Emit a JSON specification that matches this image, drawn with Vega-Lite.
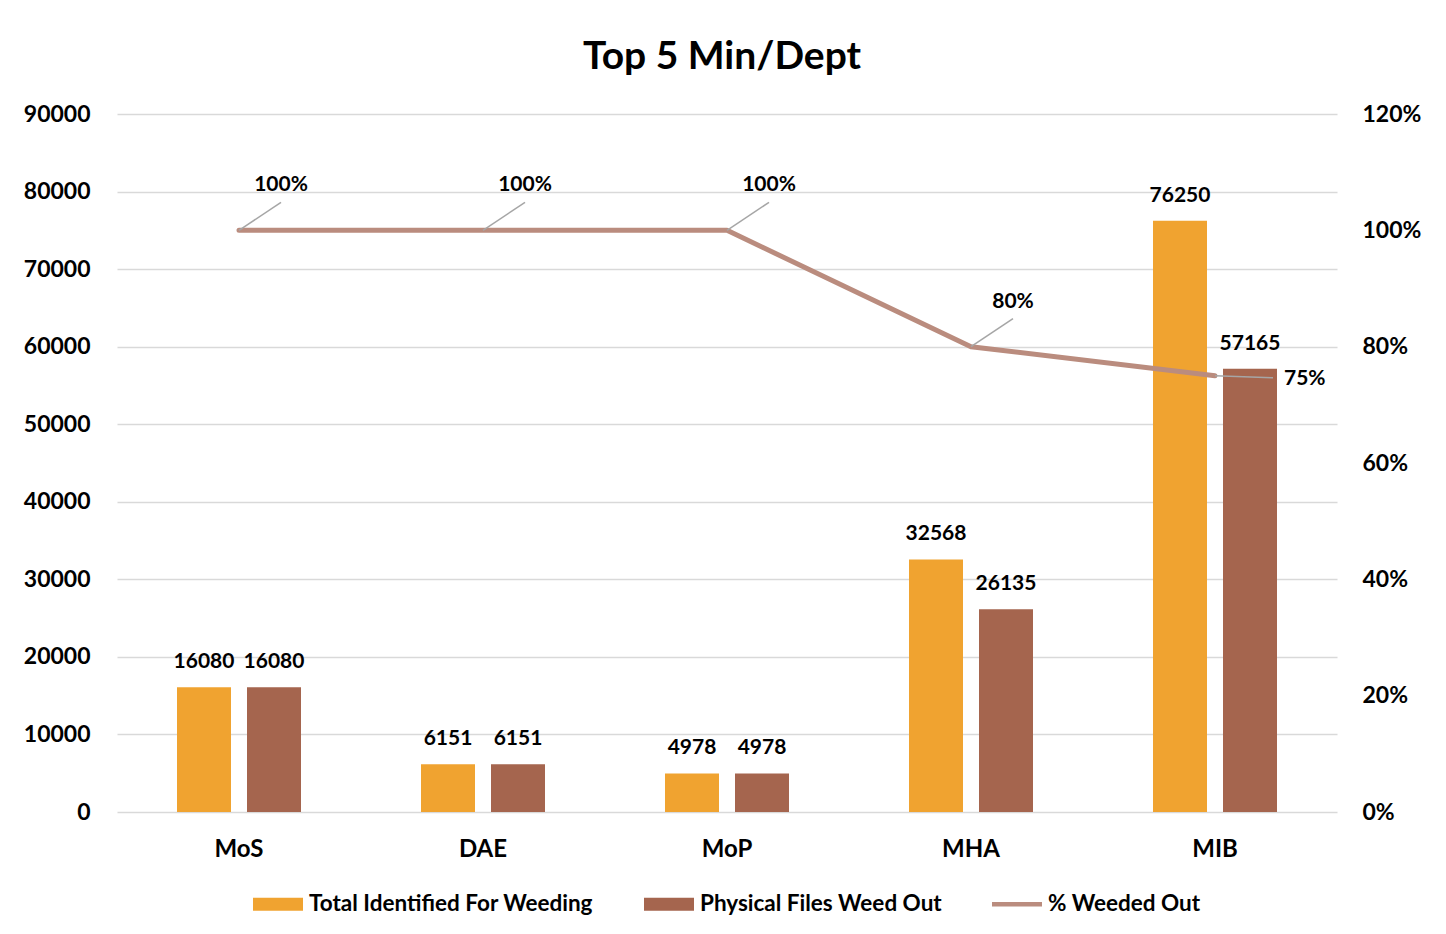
{
  "$schema": "https://vega.github.io/schema/vega-lite/v6.json",
  "width": 1220,
  "height": 698,
  "autosize": {"type": "none"},
  "padding": {"left": 117, "top": 114, "right": 109, "bottom": 122},
  "background": "white",
  "config": {
    "view": {"stroke": null},
    "font": "Lato",
    "axis": {"labelFont": "Lato", "labelFontWeight": "bold", "labelColor": "black", "labelFontSize": 23, "domain": false, "ticks": false, "title": null},
    "legend": {"layout": {"bottom": {"anchor": "middle"}}}
  },
  "title": {"text": "Top 5 Min/Dept", "fontSize": 39, "font": "Lato", "fontWeight": "bold", "color": "black", "anchor": "middle", "offset": 26, "dx": -5},
  "datasets": {
    "bars": [
      {"dept": "MoS", "series": "Total Identified For Weeding", "files": 16080},
      {"dept": "MoS", "series": "Physical Files Weed Out", "files": 16080},
      {"dept": "DAE", "series": "Total Identified For Weeding", "files": 6151},
      {"dept": "DAE", "series": "Physical Files Weed Out", "files": 6151},
      {"dept": "MoP", "series": "Total Identified For Weeding", "files": 4978},
      {"dept": "MoP", "series": "Physical Files Weed Out", "files": 4978},
      {"dept": "MHA", "series": "Total Identified For Weeding", "files": 32568},
      {"dept": "MHA", "series": "Physical Files Weed Out", "files": 26135},
      {"dept": "MIB", "series": "Total Identified For Weeding", "files": 76250},
      {"dept": "MIB", "series": "Physical Files Weed Out", "files": 57165}
    ],
    "pct": [
      {"dept": "MoS", "pct": 1.0},
      {"dept": "DAE", "pct": 1.0},
      {"dept": "MoP", "pct": 1.0},
      {"dept": "MHA", "pct": 0.8},
      {"dept": "MIB", "pct": 0.75}
    ]
  },
  "encoding": {
    "x": {
      "field": "dept", "type": "nominal", "sort": ["MoS", "DAE", "MoP", "MHA", "MIB"],
      "scale": {"paddingInner": 0.4918, "paddingOuter": 0.2459},
      "axis": {"labelAngle": 0, "labelPadding": 25, "labelFontSize": 24, "grid": false}
    }
  },
  "layer": [
    {
      "data": {"name": "bars"},
      "encoding": {
        "xOffset": {"field": "series", "type": "nominal", "sort": ["Total Identified For Weeding", "Physical Files Weed Out"], "scale": {"paddingInner": 0.2286, "paddingOuter": 0}},
        "y": {
          "field": "files", "type": "quantitative",
          "scale": {"domain": [0, 90000], "nice": false},
          "axis": {"orient": "left", "values": [0, 10000, 20000, 30000, 40000, 50000, 60000, 70000, 80000, 90000], "format": "d", "labelPadding": 27, "grid": true, "gridColor": "#D9D9D9", "gridWidth": 1.5}
        }
      },
      "layer": [
        {
          "mark": {"type": "bar"},
          "encoding": {
            "color": {
              "field": "series", "type": "nominal",
              "scale": {"domain": ["Total Identified For Weeding", "Physical Files Weed Out", "% Weeded Out"], "range": ["#F0A330", "#A5654E", "#BA8C7E"]},
              "legend": {
                "orient": "bottom", "direction": "horizontal", "title": null,
                "labelFont": "Lato", "labelFontSize": 22.5, "labelFontWeight": "bold", "labelColor": "black", "labelLimit": 0,
                "symbolType": "M-1,-0.26H1V0.26H-1Z", "symbolSize": 2500, "labelOffset": 6, "columnPadding": 50, "offset": 18,
                "encode": {
                  "symbols": {
                    "update": {
                      "shape": {"signal": "datum.value === '% Weeded Out' ? 'M-1,-0.09H1V0.09H-1Z' : 'M-1,-0.26H1V0.26H-1Z'"},
                      "fill": {"signal": "scale('color', datum.value)"},
                      "strokeWidth": {"value": 0},
                      "opacity": {"value": 1},
                      "fillOpacity": {"value": 1}
                    }
                  }
                }
              }
            }
          }
        },
        {
          "mark": {"type": "text", "font": "Lato", "fontWeight": "bold", "fontSize": 21, "color": "black", "baseline": "alphabetic", "dy": -19},
          "encoding": {"text": {"field": "files", "type": "quantitative", "format": "d"}}
        }
      ]
    },
    {
      "data": {"name": "pct"},
      "encoding": {
        "y": {
          "field": "pct", "type": "quantitative",
          "scale": {"domain": [0, 1.2], "nice": false},
          "axis": {"orient": "right", "values": [0, 0.2, 0.4, 0.6, 0.8, 1.0, 1.2], "format": ".0%", "labelPadding": 25, "grid": false}
        }
      },
      "layer": [
        {
          "mark": {"type": "line", "strokeWidth": 5, "strokeCap": "round", "strokeJoin": "round"},
          "encoding": {"color": {"datum": "% Weeded Out"}}
        },
        {
          "transform": [{"filter": "datum.dept !== 'MIB'"}],
          "mark": {"type": "rule", "color": "#A6A6A6", "strokeWidth": 1.5, "x2Offset": 42, "y2Offset": -28},
          "encoding": {"x2": {"field": "dept"}, "y2": {"field": "pct"}}
        },
        {
          "transform": [{"filter": "datum.dept === 'MIB'"}],
          "mark": {"type": "rule", "color": "#A6A6A6", "strokeWidth": 1.5, "x2Offset": 58, "y2Offset": 2},
          "encoding": {"x2": {"field": "dept"}, "y2": {"field": "pct"}}
        },
        {
          "transform": [{"filter": "datum.dept !== 'MIB'"}],
          "mark": {"type": "text", "font": "Lato", "fontWeight": "bold", "fontSize": 21, "color": "black", "baseline": "middle", "align": "center", "dx": 42, "dy": -45},
          "encoding": {"text": {"field": "pct", "type": "quantitative", "format": ".0%"}}
        },
        {
          "transform": [{"filter": "datum.dept === 'MIB'"}],
          "mark": {"type": "text", "font": "Lato", "fontWeight": "bold", "fontSize": 21, "color": "black", "baseline": "middle", "align": "left", "dx": 69, "dy": 3},
          "encoding": {"text": {"field": "pct", "type": "quantitative", "format": ".0%"}}
        }
      ]
    }
  ],
  "resolve": {"scale": {"y": "independent"}}
}
